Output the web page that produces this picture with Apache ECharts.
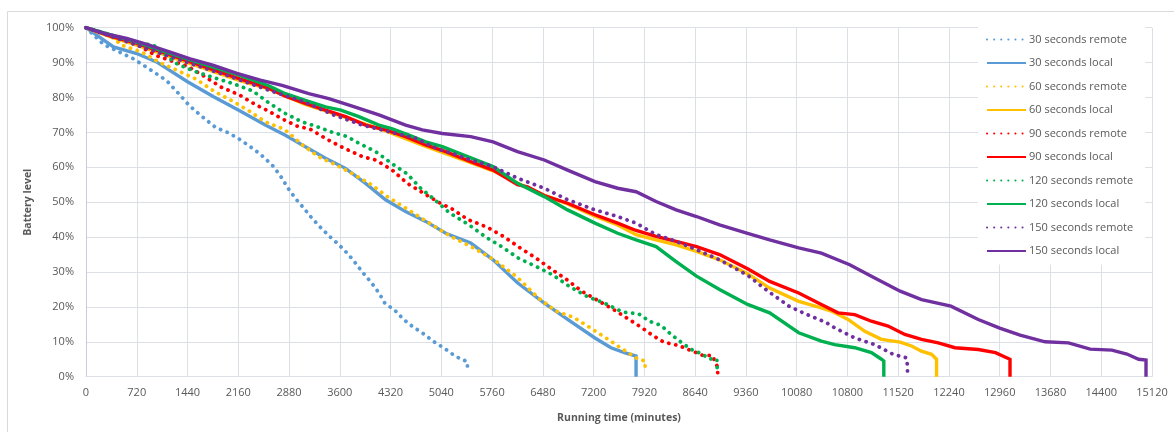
<!DOCTYPE html>
<html>
<head>
<meta charset="utf-8">
<script src="https://cdn.jsdelivr.net/npm/echarts@6/dist/echarts.min.js"></script>
<style>
html, body { margin: 0; padding: 0; background: #fff; }
#chart { width: 1174px; height: 432px; }
</style>
</head>
<body>
<div id="chart"></div>
<script>
// [running time (minutes), battery level (%)]
var remote30 = [[0,100],[250,95.2],[670,91.1],[850,88.8],[1140,84.9],[1320,81.0],[1460,77.8],[1625,74.9],[1840,71.4],[2020,69.9],[2180,68.0],[2330,65.9],[2470,63.8],[2600,61.4],[2662,60.2],[2771,57.1],[2866,54.0],[2970,51.1],[3089,48.3],[3193,45.7],[3316,43.0],[3444,40.4],[3572,38.1],[3705,35.4],[3813,32.8],[3932,29.7],[4050,26.9],[4155,24.0],[4240,21.0],[4382,19.0],[4505,16.4],[4638,14.3],[4780,12.4],[4937,10.0],[5093,8.0],[5235,5.9],[5329,5.0],[5410,4.3],[5410,1.8]];
var local30 = [[0,100],[390,94.5],[720,92.6],[1000,90.2],[1440,84.5],[1810,80.2],[2160,76.4],[2544,72.1],[2828,69.2],[3112,65.9],[3397,62.6],[3681,59.7],[3965,55.4],[4249,50.7],[4533,47.3],[4818,44.5],[5102,41.1],[5457,38.3],[5774,33.5],[6120,26.9],[6500,21.1],[6831,16.4],[7219,11.1],[7446,8.3],[7636,6.9],[7802,5.9],[7802,0]];
var remote60 = [[0,100],[341,97.8],[507,95.0],[791,93.0],[1028,90.2],[1288,87.8],[1549,85.4],[1833,81.6],[2094,78.8],[2331,75.9],[2544,73.0],[2814,70.9],[3089,66.1],[3302,63.0],[3563,60.5],[3813,57.8],[4050,55.0],[4273,51.6],[4496,48.8],[4723,45.9],[4950,43.0],[5173,40.2],[5457,37.3],[5789,33.5],[6111,28.6],[6414,22.6],[6665,18.8],[6916,17.0],[7153,14.0],[7376,11.1],[7603,8.0],[7835,5.0],[7930,4.5],[7930,1.9]];
var local60 = [[0,100],[360,97.3],[720,95.0],[1440,90.0],[2160,85.0],[2600,82.4],[3112,78.0],[3681,74.3],[4249,70.4],[4818,66.0],[5457,61.3],[5774,59.0],[6120,55.5],[6500,52.0],[6831,49.5],[7219,46.0],[7541,43.5],[7802,40.7],[8086,39.2],[8370,37.8],[8659,35.9],[8986,33.5],[9384,29.5],[9697,25.4],[10109,21.6],[10430,19.7],[10572,18.8],[10809,16.4],[11046,13.0],[11283,10.7],[11548,9.9],[11709,8.8],[11851,7.3],[11993,6.4],[12064,5.0],[12064,0]];
var remote90 = [[0,100],[365,97.8],[625,96.4],[981,92.1],[1454,88.8],[1677,86.1],[1914,83.0],[2179,80.7],[2416,77.8],[2582,76.2],[2771,74.0],[2994,71.8],[3183,70.9],[3420,68.0],[3667,65.4],[3927,63.0],[4107,62.1],[4344,59.2],[4557,55.4],[4770,52.8],[5007,49.9],[5197,48.0],[5419,45.0],[5685,42.9],[5921,40.2],[6158,36.9],[6381,34.0],[6608,30.7],[6821,27.8],[7030,24.5],[7281,21.6],[7518,18.8],[7741,15.9],[7887,14.0],[8039,11.8],[8195,9.9],[8394,9.0],[8584,7.5],[8749,6.1],[8882,6.1],[8953,3.0],[8963,0.4]];
var local90 = [[0,100],[360,97.5],[720,95.5],[1440,90.5],[2160,85.5],[2600,82.6],[2828,80.4],[3112,78.3],[3397,76.4],[3681,74.5],[3965,72.1],[4249,70.7],[4533,68.8],[4818,66.4],[5102,64.5],[5457,61.6],[5774,59.2],[6120,55.0],[6262,54.4],[6500,51.9],[6831,49.7],[7219,46.4],[7541,44.0],[7802,41.9],[8086,40.2],[8370,38.8],[8659,37.3],[8986,35.0],[9384,30.9],[9697,27.3],[10109,24.0],[10430,20.7],[10667,18.3],[10904,17.8],[11140,15.9],[11377,14.5],[11614,12.1],[11851,10.7],[12088,9.7],[12325,8.3],[12656,7.8],[12900,6.9],[13026,5.7],[13106,5.0],[13106,0]];
var remote120 = [[0,100],[500,97.0],[981,94.7],[1075,93.0],[1170,91.6],[1265,89.9],[1525,87.6],[1809,85.7],[2084,84.0],[2364,81.9],[2591,78.5],[2828,75.4],[3065,73.0],[3255,71.8],[3515,69.9],[3705,68.8],[3870,66.9],[4108,64.5],[4335,61.1],[4557,58.1],[4747,54.0],[4946,50.7],[5159,46.9],[5434,43.5],[5670,40.0],[5893,37.3],[6130,34.0],[6381,31.6],[6618,29.2],[6855,25.9],[7106,23.0],[7362,21.0],[7613,18.5],[7840,18.0],[7991,15.9],[8157,14.7],[8299,12.1],[8441,9.9],[8584,7.8],[8749,6.4],[8835,5.1],[8948,5.0],[8953,2.6]];
var local120 = [[0,100],[720,95.8],[1440,91.0],[2160,86.5],[2600,83.3],[2828,81.1],[3112,79.2],[3397,77.3],[3615,76.4],[3870,74.5],[4155,72.1],[4335,71.1],[4581,69.2],[4818,67.3],[5055,65.9],[5358,63.5],[5774,60.2],[6120,55.4],[6500,51.6],[6831,47.8],[7219,44.0],[7541,41.1],[7802,39.2],[8086,37.3],[8370,33.0],[8659,28.8],[8986,25.0],[9384,20.7],[9697,18.3],[10109,12.6],[10430,10.2],[10620,9.2],[10904,8.3],[11140,6.9],[11283,5.0],[11316,4.5],[11316,0]];
var remote150 = [[0,100],[720,95.0],[1440,90.0],[2046,86.0],[2591,82.1],[3089,78.8],[3515,75.0],[3918,72.1],[4297,70.2],[4676,68.3],[5007,65.1],[5197,64.0],[5457,62.1],[5774,60.2],[6120,56.9],[6500,54.0],[6831,50.7],[7219,47.8],[7541,45.9],[7802,44.0],[8086,40.7],[8370,38.8],[8659,36.4],[8986,33.5],[9389,29.0],[9673,24.5],[9972,20.2],[10227,17.8],[10493,15.6],[10620,14.0],[10904,11.1],[11188,9.2],[11449,6.4],[11543,5.9],[11638,5.4],[11652,3.0],[11652,0.7]];
var local150 = [[0,100],[270,98.3],[578,96.9],[862,95.2],[1194,93.0],[1478,91.1],[1809,89.2],[2141,86.9],[2473,85.0],[2781,83.5],[3160,81.1],[3444,79.7],[3776,77.5],[4155,75.0],[4533,72.1],[4770,70.7],[5055,69.7],[5457,68.8],[5774,67.3],[6120,64.5],[6500,62.1],[6831,59.2],[7219,55.9],[7541,54.0],[7802,53.0],[8086,50.2],[8370,47.8],[8659,45.9],[8986,43.5],[9384,41.1],[9697,39.2],[10109,36.9],[10430,35.4],[10833,32.1],[11140,28.8],[11548,24.5],[11851,22.1],[12268,20.2],[12656,16.4],[12960,13.9],[13249,11.9],[13604,10.0],[13936,9.7],[14243,7.9],[14551,7.6],[14764,6.5],[14930,5.0],[15035,4.8],[15035,0]];

var names = ['30 seconds remote', '30 seconds local', '60 seconds remote', '60 seconds local',
    '90 seconds remote', '90 seconds local', '120 seconds remote', '120 seconds local',
    '150 seconds remote', '150 seconds local'];
var colors = ['#5B9BD5', '#5B9BD5', '#FFC000', '#FFC000', '#FF0000', '#FF0000',
    '#00B050', '#00B050', '#7030A0', '#7030A0'];
var datasets = [remote30, local30, remote60, local60, remote90, local90,
    remote120, local120, remote150, local150];

var labelColor = '#595959';
var gridColor = '#dcdfe6';
var fontFamily = '"Open Sans", "Noto Sans", sans-serif';

var series = datasets.map(function (d, i) {
    var dotted = i % 2 === 0;
    return {
        name: names[i],
        type: 'line',
        data: d,
        symbol: 'none',
        animation: false,
        color: colors[i],
        lineStyle: dotted ? {
            color: colors[i],
            width: 3.8,
            type: [0.1, 7],
            cap: 'round'
        } : {
            color: colors[i],
            width: 3.4,
            cap: 'butt',
            join: 'miter'
        }
    };
});

var option = {
    backgroundColor: '#fff',
    animation: false,
    textStyle: { fontFamily: fontFamily },
    graphic: [{
        type: 'rect',
        silent: true,
        z: -10,
        shape: { x: 7.5, y: 11.5, width: 1200, height: 460 },
        style: { fill: null, stroke: '#d9d9d9', lineWidth: 1 }
    }],
    grid: { left: 86, right: 22, top: 27.7, bottom: 55.3 },
    legend: {
        orient: 'vertical',
        left: 978,
        top: 26,
        padding: [8, 12, 8, 8],
        backgroundColor: '#fff',
        itemWidth: 39,
        itemHeight: 12,
        itemGap: 12.5,
        data: names,
        itemStyle: { opacity: 0 },
        textStyle: { color: labelColor, fontSize: 11, fontFamily: fontFamily, padding: [0, 0, 0, -2] }
    },
    xAxis: {
        type: 'value',
        min: 0,
        max: 15120,
        interval: 720,
        name: 'Running time (minutes)',
        nameLocation: 'middle',
        nameGap: 36,
        nameTextStyle: { color: labelColor, fontSize: 10.5, fontWeight: 'bold' },
        axisLine: { show: true, lineStyle: { color: gridColor } },
        axisTick: { show: false },
        axisLabel: {
            color: labelColor, fontSize: 11, margin: 11, hideOverlap: false,
            formatter: function (v) { return String(v); }
        },
        splitLine: { show: true, lineStyle: { color: gridColor, width: 1 } }
    },
    yAxis: {
        type: 'value',
        min: 0,
        max: 100,
        interval: 10,
        name: 'Battery level',
        nameLocation: 'middle',
        nameGap: 52,
        nameTextStyle: { color: labelColor, fontSize: 10.5, fontWeight: 'bold' },
        axisLine: { show: true, lineStyle: { color: '#c8ccd4' } },
        axisTick: { show: false },
        axisLabel: { color: labelColor, fontSize: 11, margin: 12, formatter: '{value}%' },
        splitLine: { show: true, lineStyle: { color: gridColor, width: 1 } }
    },
    series: series
};

var myChart = echarts.init(document.getElementById('chart'), null, { renderer: 'canvas' });
myChart.setOption(option);
</script>
</body>
</html>
